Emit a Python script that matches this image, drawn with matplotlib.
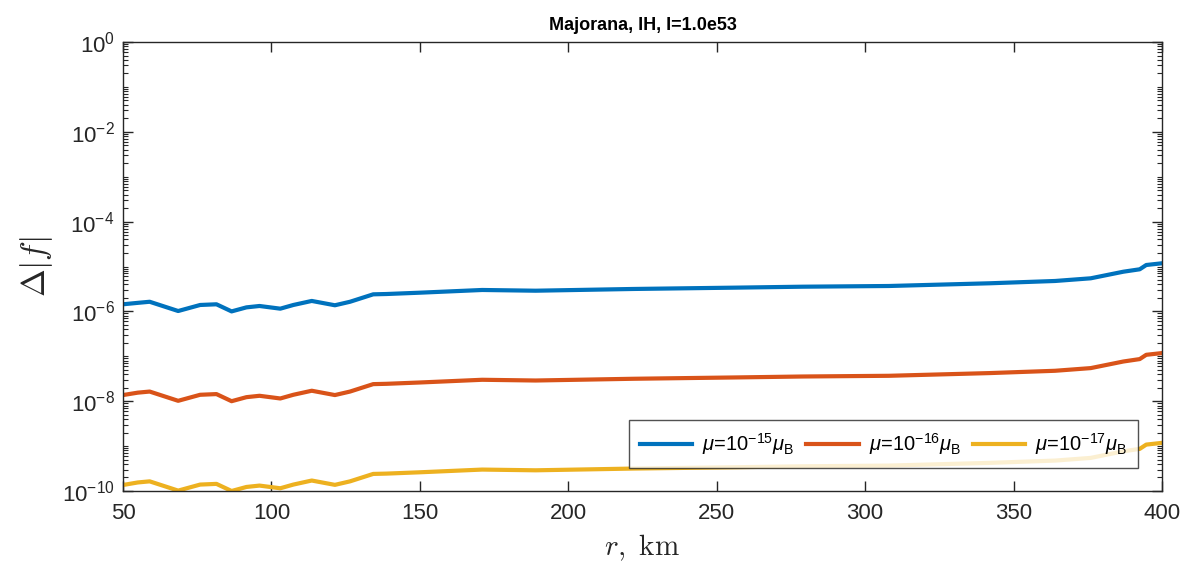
import numpy as np
import matplotlib
matplotlib.use("Agg")
from matplotlib import pyplot as plt
from matplotlib.ticker import LogLocator, FixedLocator, FuncFormatter, NullFormatter

plt.rcParams['font.family'] = ['Liberation Sans', 'DejaVu Sans']
plt.rcParams['mathtext.fontset'] = 'custom'
plt.rcParams['mathtext.rm'] = 'Liberation Sans'
plt.rcParams['mathtext.it'] = 'Liberation Sans:italic'

# r in km
r = [50, 55, 59, 68.6, 76, 81.5, 86.6, 91.6, 96, 103, 107.4, 113.6, 121.4, 126.5,
     134.3, 138.8, 150, 171, 189, 222, 256, 279, 308, 342, 364, 376, 387, 392.5,
     394.7, 400]
mu15 = [1.44e-6, 1.55e-6, 1.64e-6, 1.02e-6, 1.39e-6, 1.44e-6, 1.00e-6, 1.23e-6,
        1.32e-6, 1.15e-6, 1.39e-6, 1.71e-6, 1.37e-6, 1.64e-6, 2.40e-6, 2.44e-6,
        2.61e-6, 3.00e-6, 2.89e-6, 3.16e-6, 3.38e-6, 3.55e-6, 3.68e-6, 4.23e-6,
        4.76e-6, 5.46e-6, 7.66e-6, 8.67e-6, 1.08e-5, 1.18e-5]
mu16 = [1.37e-8, 1.55e-8, 1.64e-8, 1.02e-8, 1.39e-8, 1.44e-8, 1.00e-8, 1.23e-8,
        1.32e-8, 1.15e-8, 1.39e-8, 1.71e-8, 1.37e-8, 1.64e-8, 2.40e-8, 2.44e-8,
        2.61e-8, 3.00e-8, 2.89e-8, 3.16e-8, 3.38e-8, 3.55e-8, 3.68e-8, 4.23e-8,
        4.76e-8, 5.46e-8, 7.66e-8, 8.67e-8, 1.08e-7, 1.18e-7]
mu17 = [1.36e-10, 1.55e-10, 1.64e-10, 1.02e-10, 1.39e-10, 1.44e-10, 1.00e-10, 1.23e-10,
        1.32e-10, 1.15e-10, 1.39e-10, 1.71e-10, 1.37e-10, 1.64e-10, 2.40e-10, 2.44e-10,
        2.61e-10, 3.00e-10, 2.89e-10, 3.16e-10, 3.38e-10, 3.55e-10, 3.68e-10, 4.23e-10,
        4.76e-10, 5.46e-10, 7.66e-10, 8.67e-10, 1.08e-9, 1.18e-9]
labels = [r'$\mu$=10$^{-15}$$\mu_{\mathregular{B}}$',
          r'$\mu$=10$^{-16}$$\mu_{\mathregular{B}}$',
          r'$\mu$=10$^{-17}$$\mu_{\mathregular{B}}$']
colors = ['#0072BD', '#D95319', '#EDB120']
xticks = [50, 100, 150, 200, 250, 300, 350, 400]

fig = plt.figure(figsize=(11.81, 5.70), dpi=100)
ax = fig.add_axes([0.1041, 0.1386, 0.8798, 0.7877])

for y, c, lab in zip([mu15, mu16, mu17], colors, labels):
    ax.plot(r, y, color=c, lw=3, label=lab)

ax.set_yscale('log')
ax.set_xlim(50, 400)
ax.set_ylim(1e-10, 1)
ax.xaxis.set_major_locator(FixedLocator(xticks))
ax.yaxis.set_major_locator(FixedLocator([1e-10, 1e-8, 1e-6, 1e-4, 1e-2, 1]))
ax.yaxis.set_minor_locator(LogLocator(base=10, subs=np.arange(1, 10), numticks=30))
ax.yaxis.set_minor_formatter(NullFormatter())
ax.yaxis.set_major_formatter(FuncFormatter(
    lambda v, p: r'10$^{\mathregular{%d}}$' % int(round(np.log10(v)))))

ax.tick_params(which='both', direction='in', top=True, right=True,
               colors='#262626', labelsize=16)
ax.tick_params(axis='x', pad=9)
ax.tick_params(axis='y', pad=6)
ax.tick_params(which='major', length=7, width=1)
ax.tick_params(which='minor', length=3.5, width=0.8)
for s in ax.spines.values():
    s.set_color('#262626')
    s.set_linewidth(1)

ax.set_title('Majorana, IH, I=1.0e53', fontsize=13, fontweight='bold', pad=9)
ax.set_xlabel(r'$r,\ \mathrm{km}$', fontsize=21, math_fontfamily='cm',
              color='#262626', labelpad=6)
ax.set_ylabel(r'$\Delta|f|$', fontsize=24, math_fontfamily='cm',
              color='#262626', labelpad=5)

leg = ax.legend(ncol=3, loc='lower right', bbox_to_anchor=(0.977, 0.051),
                fontsize=14.5, frameon=True, fancybox=False, handlelength=2.6,
                columnspacing=0.6, handletextpad=0.5, borderpad=0.55,
                borderaxespad=0)
leg.get_frame().set_edgecolor('#262626')
leg.get_frame().set_linewidth(1)

plt.savefig('out.png', dpi=100)
